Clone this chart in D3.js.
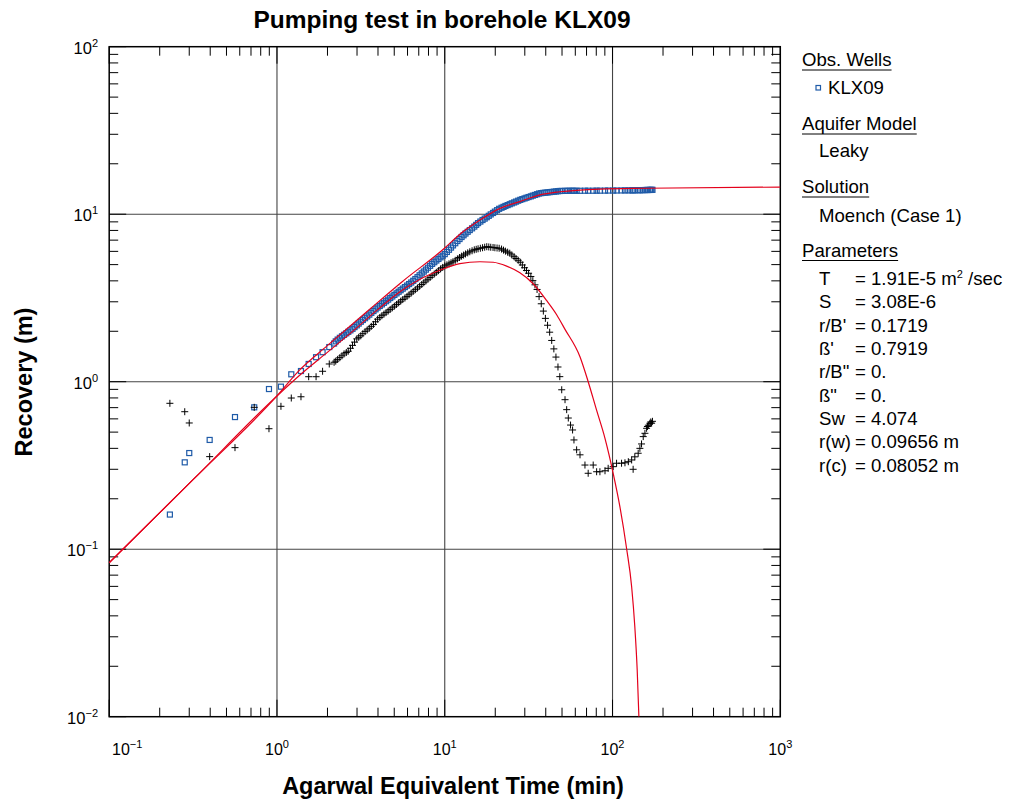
<!DOCTYPE html>
<html>
<head>
<meta charset="utf-8">
<script src="https://cdnjs.cloudflare.com/ajax/libs/d3/7.8.5/d3.min.js"></script>
<style>
  body { margin: 0; background: #fff; }
  text { font-family: "Liberation Sans", Arial, sans-serif; }
</style>
</head>
<body>
<script>
// observed data, KLX09 (time in min, recovery in m, derivative in m)
var obsTime = [0.230, 0.282, 0.300, 0.397, 0.562, 0.732, 0.896, 1.056, 1.217, 1.390, 1.545, 1.710, 1.870, 2.050, 2.190,
  2.24, 2.30, 2.37, 2.44, 2.51, 2.59, 2.66, 2.74, 2.82, 2.90, 2.99, 3.07, 3.16, 3.25, 3.35, 3.45, 3.55, 3.65, 3.76, 3.87,
  3.98, 4.10, 4.22, 4.34, 4.47, 4.60, 4.73, 4.87, 5.01, 5.16, 5.31, 5.46, 5.62, 5.79, 5.96, 6.13, 6.31, 6.49, 6.68, 6.88,
  7.08, 7.29, 7.50, 7.72, 7.94, 8.18, 8.41, 8.66, 8.91, 9.17, 9.44, 9.72, 10.0, 10.3, 10.6, 10.9, 11.2, 11.55, 11.9, 12.25,
  12.6, 12.95, 13.3, 13.7, 14.1, 14.55, 15.0, 15.4, 15.8, 16.3, 16.8, 17.3, 17.8, 18.3, 18.8, 19.4, 19.9,
  20.5, 21.1, 21.8, 22.4, 23.0, 23.7, 24.4, 25.1, 25.9, 26.6, 27.4, 28.2, 29.0, 29.9, 30.7, 31.6, 32.6, 33.5, 34.5,
  35.5, 36.5, 37.6, 38.7, 39.8, 41.0, 42.2, 43.4, 44.7, 46.0, 47.3,
  48.5, 49.8, 52.1, 53.3, 54.5, 56.2, 57.8, 58.9, 61.1, 64.0, 68.5, 71.6, 76.7, 80.4, 84.1, 90.2, 94.2, 100.9, 105.7,
  113.2, 118.6, 124.2, 130.0, 132.7, 135.8, 142.2, 145.6, 148.9, 152.4, 156.0, 159.6, 161.5, 163.5, 167.1, 169.0, 171.0, 173.0];
var recovery = [0.161, 0.330, 0.375, 0.449, 0.615, 0.703, 0.904, 0.934, 1.107, 1.158, 1.276, 1.40, 1.50, 1.61, 1.69,
  1.741, 1.784, 1.828, 1.866, 1.905, 1.945, 1.985, 2.026, 2.069, 2.118, 2.170, 2.223, 2.280, 2.335, 2.393, 2.453, 2.514,
  2.577, 2.641, 2.705, 2.771, 2.831, 2.894, 2.958, 3.023, 3.090, 3.159, 3.227, 3.298, 3.369, 3.443, 3.517, 3.594, 3.670,
  3.749, 3.828, 3.910, 4.003, 4.101, 4.207, 4.318, 4.431, 4.547, 4.668, 4.792, 4.919, 5.050, 5.168, 5.290, 5.406, 5.529,
  5.650, 5.776, 5.952, 6.133, 6.319, 6.512, 6.709, 6.916, 7.108, 7.308, 7.485, 7.666, 7.852, 8.040, 8.235, 8.433, 8.637,
  8.847, 9.036, 9.230, 9.410, 9.594, 9.781, 9.972, 10.17, 10.36,
  10.57, 10.77, 10.93, 11.06, 11.20, 11.33, 11.47, 11.61, 11.75, 11.89, 12.04, 12.18, 12.30, 12.42, 12.54, 12.66, 12.78,
  12.91, 13.03, 13.16, 13.29, 13.36, 13.41, 13.45, 13.49, 13.54, 13.58, 13.63, 13.67, 13.72,
  13.76, 13.77, 13.78, 13.78, 13.79, 13.79, 13.80, 13.80, 13.80, 13.80, 13.81, 13.81, 13.81, 13.82, 13.82, 13.83, 13.84,
  13.84, 13.85, 13.86, 13.87, 13.87, 13.88, 13.88, 13.89, 13.90, 13.91, 13.92, 13.93, 13.94, 13.95, 13.95, 13.95, 13.96,
  13.96, 13.97, 13.98];
var derivative = [0.743, 0.662, 0.567, 0.357, 0.404, 0.703, 0.524, 0.713, 0.799, 0.813, 1.071, 1.071, 1.154, 1.276, 1.306,
  1.327, 1.359, 1.392, 1.428, 1.465, 1.493, 1.521, 1.583, 1.648, 1.723, 1.802, 1.841, 1.881, 1.935, 1.991, 2.037, 2.084,
  2.140, 2.198, 2.279, 2.362, 2.419, 2.477, 2.531, 2.586, 2.642, 2.702, 2.763, 2.826, 2.892, 2.959, 3.025, 3.093, 3.160,
  3.229, 3.305, 3.383, 3.462, 3.543, 3.627, 3.713, 3.805, 3.898, 3.994, 4.090, 4.192, 4.295, 4.394, 4.496, 4.603, 4.715,
  4.813, 4.911, 4.983, 5.054, 5.128, 5.202, 5.306, 5.413, 5.515, 5.616, 5.702, 5.788, 5.877, 5.966, 6.048, 6.128, 6.172,
  6.216, 6.262, 6.307, 6.352, 6.397, 6.374, 6.350, 6.329, 6.306,
  6.283, 6.260, 6.192, 6.104, 6.018, 5.934, 5.850, 5.713, 5.574, 5.439, 5.308, 5.169, 4.976, 4.790, 4.613, 4.442, 4.248,
  4.012, 3.788, 3.554, 3.221, 2.919, 2.640, 2.388, 2.173, 1.975, 1.763, 1.570, 1.403, 1.224,
  1.072, 0.895, 0.781, 0.681, 0.607, 0.551, 0.515, 0.449, 0.392, 0.366, 0.318, 0.284, 0.318, 0.290, 0.290, 0.294, 0.304,
  0.311, 0.326, 0.326, 0.328, 0.333, 0.341, 0.300, 0.356, 0.374, 0.400, 0.425, 0.470, 0.492, 0.527, 0.540, 0.550, 0.565,
  0.575, 0.565, 0.580];

// Moench (Case 1) fitted curves
var fitTime = [0.1, 0.316, 1.0, 1.371, 1.995, 3.548, 5.623, 10, 12.30, 16.22, 21.33, 28.05, 36.90, 48.53, 84.14, 158.5, 1000];
var fitRecovery = [0.0830, 0.260, 0.822, 1.180, 1.641, 2.692, 3.981, 6.281, 7.586, 9.226, 10.84, 11.89, 13.03, 13.61, 14.13, 14.29, 14.52];
var fitDerivTime = [0.1, 0.316, 1.0, 1.371, 1.995, 2.723, 3.981, 5.408, 7.079, 9.354, 12.30, 16.22, 19.45, 23.39, 28.05,
  33.65, 40.46, 46.45, 52.00, 63.97, 71.61, 80.35, 90.16, 100.9, 110.7, 121.3, 130.0, 135.8, 140.3, 143.6];
var fitDerivative = [0.0830, 0.260, 0.822, 1.096, 1.496, 1.936, 2.692, 3.443, 4.074, 4.624, 5.070, 5.200, 5.164, 4.898, 4.467,
  3.846, 3.055, 2.512, 2.061, 1.409, 1.0, 0.676, 0.459, 0.284, 0.179, 0.101, 0.0597, 0.0344, 0.0190, 0.0100];

var xDecades = [-1, 0, 1, 2, 3];
var yDecades = [-2, -1, 0, 1, 2];

var paramLabels = ["T", "S", "r/B'", "ß'", "r/B\"", "ß\"", "Sw", "r(w)", "r(c)"];
var paramValues = ["1.91E-5", "3.08E-6", "0.1719", "0.7919", "0.", "0.", "4.074", "0.09656", "0.08052"];
var paramUnits = [" m", "", "", "", "", "", "", " m", " m"];

var W = 1009, H = 800;
var plotLeft = 109.2, plotRight = 780.3, plotTop = 46.7, plotBottom = 716.7;

var svg = d3.select('body').append('svg')
    .attr('width', W)
    .attr('height', H);

var x = d3.scaleLog().domain([0.1, 1000]).range([plotLeft, plotRight]);
var y = d3.scaleLog().domain([0.01, 100]).range([plotBottom, plotTop]);

svg.append('defs').append('clipPath').attr('id', 'plotclip')
    .append('rect').attr('x', plotLeft).attr('y', plotTop)
    .attr('width', plotRight - plotLeft).attr('height', plotBottom - plotTop);

// grid lines at decades
var grid = svg.append('g');
xDecades.slice(1, -1).forEach(function (e) {
    grid.append('line').attr('x1', x(Math.pow(10, e))).attr('x2', x(Math.pow(10, e)))
        .attr('y1', plotTop).attr('y2', plotBottom).attr('stroke', '#444').attr('stroke-width', 1.1);
});
yDecades.slice(1, -1).forEach(function (e) {
    grid.append('line').attr('y1', y(Math.pow(10, e))).attr('y2', y(Math.pow(10, e)))
        .attr('x1', plotLeft).attr('x2', plotRight).attr('stroke', '#444').attr('stroke-width', 1.1);
});

// ticks on all four sides, pointing inwards
var ticks = svg.append('g').attr('stroke', '#000').attr('stroke-width', 1);
x.ticks().forEach(function (v) {
    var major = Math.abs(Math.log10(v) - Math.round(Math.log10(v))) < 1e-6;
    var len = major ? 17 : 9;
    var px = x(v);
    ticks.append('line').attr('x1', px).attr('x2', px).attr('y1', plotBottom).attr('y2', plotBottom - len);
    ticks.append('line').attr('x1', px).attr('x2', px).attr('y1', plotTop).attr('y2', plotTop + len);
});
y.ticks().forEach(function (v) {
    var major = Math.abs(Math.log10(v) - Math.round(Math.log10(v))) < 1e-6;
    var len = major ? 17 : 9;
    var py = y(v);
    ticks.append('line').attr('y1', py).attr('y2', py).attr('x1', plotLeft).attr('x2', plotLeft + len);
    ticks.append('line').attr('y1', py).attr('y2', py).attr('x1', plotRight).attr('x2', plotRight - len);
});

svg.append('rect').attr('x', plotLeft).attr('y', plotTop)
    .attr('width', plotRight - plotLeft).attr('height', plotBottom - plotTop)
    .attr('fill', 'none').attr('stroke', '#000').attr('stroke-width', 1.5);

function supText(sel, e) {
    sel.append('tspan').text('10');
    sel.append('tspan').attr('dy', -7).attr('font-size', 11)
        .text(e < 0 ? '\u2212' + (-e) : String(e));
}

// tick labels
xDecades.forEach(function (e) {
    var px = Math.max(x(Math.pow(10, e)), plotLeft + 18);
    var t = svg.append('text').attr('x', px).attr('y', 755)
        .attr('text-anchor', 'middle').attr('font-size', 16);
    supText(t, e);
});
yDecades.forEach(function (e) {
    var t = svg.append('text').attr('x', 98).attr('y', y(Math.pow(10, e)) + 7)
        .attr('text-anchor', 'end').attr('font-size', 16.5);
    supText(t, e);
});

// data
var plot = svg.append('g').attr('clip-path', 'url(#plotclip)');

plot.selectAll('rect.obs').data(obsTime).enter().append('rect')
    .attr('class', 'obs')
    .attr('x', function (d) { return x(d) - 2.5; })
    .attr('y', function (d, i) { return y(recovery[i]) - 2.5; })
    .attr('width', 5).attr('height', 5)
    .attr('fill', 'none').attr('stroke', '#1f5ba8').attr('stroke-width', 1.2);

plot.selectAll('path.der').data(obsTime).enter().append('path')
    .attr('class', 'der')
    .attr('transform', function (d, i) { return 'translate(' + x(d) + ',' + y(derivative[i]) + ')'; })
    .attr('d', 'M-3.5,0H3.5M0,-3.5V3.5')
    .attr('stroke', '#000').attr('stroke-width', 1);

var line = d3.line()
    .x(function (d) { return x(d[0]); })
    .y(function (d) { return y(d[1]); })
    .curve(d3.curveMonotoneX);

plot.append('path')
    .attr('d', line(fitTime.map(function (t, i) { return [t, fitRecovery[i]]; })))
    .attr('fill', 'none').attr('stroke', '#e4001b').attr('stroke-width', 1.2);
plot.append('path')
    .attr('d', line(fitDerivTime.map(function (t, i) { return [t, fitDerivative[i]]; })))
    .attr('fill', 'none').attr('stroke', '#e4001b').attr('stroke-width', 1.2);

// titles
svg.append('text').attr('x', 442).attr('y', 28).attr('text-anchor', 'middle')
    .attr('font-size', 24.5).attr('font-weight', 'bold').text('Pumping test in borehole KLX09');
svg.append('text').attr('transform', 'translate(32,382) rotate(-90)').attr('text-anchor', 'middle')
    .attr('font-size', 23.5).attr('font-weight', 'bold').text('Recovery (m)');
svg.append('text').attr('x', 453).attr('y', 794).attr('text-anchor', 'middle')
    .attr('font-size', 23.5).attr('font-weight', 'bold').text('Agarwal Equivalent Time (min)');

// legend
var lg = svg.append('g').attr('font-size', 18.6);
function heading(txt, yy) {
    var t = lg.append('text').attr('x', 802).attr('y', yy).text(txt);
    var w = t.node().getComputedTextLength();
    lg.append('line').attr('x1', 802).attr('x2', 802 + w).attr('y1', yy + 4).attr('y2', yy + 4)
        .attr('stroke', '#000').attr('stroke-width', 1);
}
heading('Obs. Wells', 66);
lg.append('rect').attr('x', 816).attr('y', 85.5).attr('width', 4.5).attr('height', 4.5)
    .attr('fill', 'none').attr('stroke', '#1f5ba8').attr('stroke-width', 1.2);
lg.append('text').attr('x', 828).attr('y', 94).text('KLX09');
heading('Aquifer Model', 130);
lg.append('text').attr('x', 819).attr('y', 157).text('Leaky');
heading('Solution', 193);
lg.append('text').attr('x', 819).attr('y', 221.5).text('Moench (Case 1)');
heading('Parameters', 256.5);
paramLabels.forEach(function (lab, i) {
    var yy = 285 + i * 23.35;
    lg.append('text').attr('x', 819).attr('y', yy).text(lab);
    var t = lg.append('text').attr('x', 855).attr('y', yy);
    t.append('tspan').text('= ' + paramValues[i] + paramUnits[i]);
    if (i === 0) {
        t.append('tspan').attr('dy', -7).attr('font-size', 11).text('2');
        t.append('tspan').attr('dy', 7).text(' /sec');
    }
});
</script>
</body>
</html>
